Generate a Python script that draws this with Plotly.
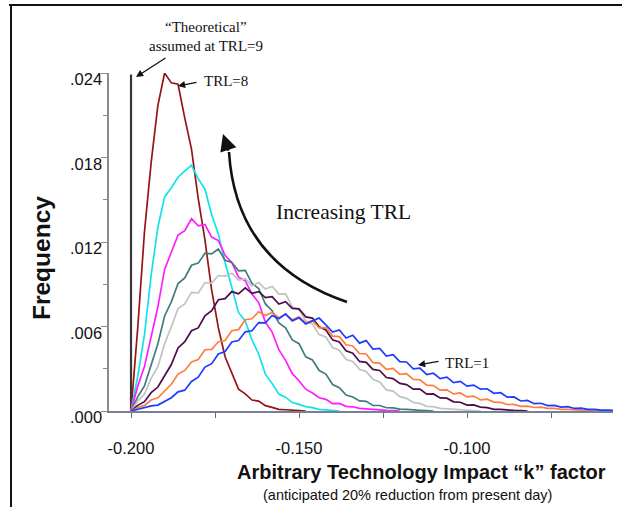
import plotly.graph_objects as go

# k-factor bin centres
k_factor = [-0.200, -0.198, -0.196, -0.194, -0.192, -0.190, -0.188, -0.186, -0.184, -0.182,
            -0.180, -0.178, -0.176, -0.174, -0.172, -0.170, -0.168, -0.166, -0.164, -0.162,
            -0.160, -0.158, -0.156, -0.154, -0.152, -0.150, -0.148, -0.146, -0.144, -0.142,
            -0.140, -0.138, -0.136, -0.134, -0.132, -0.130, -0.128, -0.126, -0.124, -0.122,
            -0.120, -0.118, -0.116, -0.114, -0.112, -0.110, -0.108, -0.106, -0.104, -0.102,
            -0.100, -0.098, -0.096, -0.094, -0.092, -0.090, -0.088, -0.086, -0.084, -0.082,
            -0.080, -0.078, -0.076, -0.074, -0.072, -0.070, -0.068, -0.066, -0.064, -0.062,
            -0.060, -0.058, -0.056]

trl8 = [0, 0.00590, 0.01270, 0.01765, 0.02170, 0.02400, 0.02330, 0.02320, 0.02080, 0.01860,
        0.01510, 0.01215, 0.00860, 0.00590, 0.00385, 0.00268, 0.00155, 0.00122, 0.00078, 0.00070,
        0.00038, 0.00026, 0.00012, 0.00009, 0.00004, 0.00003, 0]
trl7 = [0, 0.00245, 0.00540, 0.00965, 0.01305, 0.01520, 0.01585, 0.01660, 0.01705, 0.01745,
        0.01650, 0.01575, 0.01395, 0.01255, 0.01055, 0.00880, 0.00700, 0.00640, 0.00505, 0.00405,
        0.00260, 0.00195, 0.00120, 0.00098, 0.00060, 0.00047, 0.00031, 0.00024, 0.00012, 0.00008,
        0.00003, 0]
trl6 = [0, 0.00175, 0.00315, 0.00540, 0.00740, 0.01005, 0.01130, 0.01250, 0.01280, 0.01365,
        0.01315, 0.01325, 0.01235, 0.01210, 0.01105, 0.01055, 0.00950, 0.00925, 0.00830, 0.00770,
        0.00630, 0.00560, 0.00435, 0.00360, 0.00265, 0.00215, 0.00155, 0.00128, 0.00094, 0.00083,
        0.00053, 0.00054, 0.00033, 0.00030, 0.00019, 0.00015, 0.00009, 0.00008, 0.00004, 0.00003, 0]
trl5 = [0, 0.00100, 0.00178, 0.00335, 0.00478, 0.00675, 0.00775, 0.00905, 0.00945, 0.01035,
        0.01050, 0.01120, 0.01115, 0.01150, 0.01070, 0.01055, 0.00995, 0.00998, 0.00905, 0.00870,
        0.00760, 0.00712, 0.00625, 0.00590, 0.00505, 0.00478, 0.00385, 0.00362, 0.00287, 0.00262,
        0.00188, 0.00166, 0.00113, 0.00100, 0.00072, 0.00069, 0.00040, 0.00039, 0.00023, 0.00022,
        0.00013, 0.00011, 0.00006, 0.00005, 0.00003, 0]
trl4 = [0, 0.00070, 0.00120, 0.00232, 0.00315, 0.00478, 0.00598, 0.00728, 0.00760, 0.00842,
        0.00838, 0.00912, 0.00908, 0.00962, 0.00958, 0.00978, 0.00930, 0.00940, 0.00888, 0.00912,
        0.00866, 0.00884, 0.00830, 0.00832, 0.00740, 0.00718, 0.00640, 0.00618, 0.00542, 0.00525,
        0.00450, 0.00432, 0.00365, 0.00352, 0.00296, 0.00280, 0.00226, 0.00207, 0.00150, 0.00141,
        0.00102, 0.00090, 0.00060, 0.00054, 0.00033, 0.00031, 0.00019, 0.00016, 0.00009, 0.00008,
        0.00004, 0.00003, 0]
trl3 = [0, 0.00040, 0.00066, 0.00130, 0.00170, 0.00255, 0.00330, 0.00448, 0.00492, 0.00570,
        0.00590, 0.00676, 0.00712, 0.00790, 0.00798, 0.00848, 0.00832, 0.00875, 0.00835, 0.00848,
        0.00805, 0.00812, 0.00760, 0.00776, 0.00728, 0.00725, 0.00668, 0.00660, 0.00598, 0.00575,
        0.00505, 0.00490, 0.00428, 0.00410, 0.00352, 0.00345, 0.00295, 0.00288, 0.00238, 0.00230,
        0.00196, 0.00187, 0.00155, 0.00156, 0.00120, 0.00121, 0.00093, 0.00091, 0.00065, 0.00062,
        0.00042, 0.00043, 0.00028, 0.00024, 0.00012, 0.00011, 0.00006, 0.00004, 0.00002, 0]
trl2 = [0, 0.00025, 0.00040, 0.00078, 0.00094, 0.00145, 0.00190, 0.00262, 0.00288, 0.00348,
        0.00365, 0.00435, 0.00438, 0.00492, 0.00500, 0.00570, 0.00578, 0.00648, 0.00655, 0.00705,
        0.00678, 0.00700, 0.00662, 0.00685, 0.00648, 0.00670, 0.00625, 0.00642, 0.00590, 0.00592,
        0.00532, 0.00528, 0.00470, 0.00462, 0.00408, 0.00405, 0.00343, 0.00340, 0.00295, 0.00303,
        0.00260, 0.00266, 0.00225, 0.00222, 0.00184, 0.00180, 0.00148, 0.00150, 0.00121, 0.00128,
        0.00100, 0.00106, 0.00079, 0.00084, 0.00063, 0.00061, 0.00046, 0.00047, 0.00033, 0.00035,
        0.00025, 0.00027, 0.00019, 0.00019, 0.00012, 0.00011, 0.00006, 0.00006, 0.00003, 0.00003,
        0.00002, 0.00001, 0]
trl1 = [0, 0.00012, 0.00019, 0.00036, 0.00042, 0.00070, 0.00094, 0.00136, 0.00148, 0.00210,
        0.00240, 0.00312, 0.00336, 0.00405, 0.00422, 0.00490, 0.00500, 0.00562, 0.00570, 0.00628,
        0.00626, 0.00678, 0.00655, 0.00690, 0.00640, 0.00662, 0.00618, 0.00640, 0.00660, 0.00612,
        0.00560, 0.00575, 0.00518, 0.00538, 0.00482, 0.00500, 0.00440, 0.00445, 0.00390, 0.00400,
        0.00350, 0.00348, 0.00300, 0.00305, 0.00258, 0.00268, 0.00230, 0.00240, 0.00202, 0.00210,
        0.00176, 0.00184, 0.00155, 0.00158, 0.00126, 0.00130, 0.00098, 0.00100, 0.00071, 0.00075,
        0.00052, 0.00055, 0.00038, 0.00040, 0.00028, 0.00031, 0.00018, 0.00020, 0.00012, 0.00011,
        0.00006, 0.00007, 0.00004]

series = [("TRL=8", trl8, "#951515"), ("TRL=7", trl7, "#12e2ea"), ("TRL=6", trl6, "#ff1eff"),
          ("TRL=5", trl5, "#3e7d7a"), ("TRL=4", trl4, "#c2c2c2"), ("TRL=3", trl3, "#4c0c4c"),
          ("TRL=2", trl2, "#ff7d3c"), ("TRL=1", trl1, "#1e3cff")]

theoretical_k = [-0.200, -0.200]
theoretical_freq = [0, 0.0239]

y_ticks = [0.000, 0.006, 0.012, 0.018, 0.024]
y_tick_text = [".000", ".006", ".012", ".018", ".024"]
x_ticks = [-0.200, -0.150, -0.100]
x_tick_text = ["-0.200", "-0.150", "-0.100"]

SANS = "Liberation Sans, Arial, sans-serif"
SERIF = "Liberation Serif, Times New Roman, serif"

fig = go.Figure()
fig.add_trace(go.Scatter(x=theoretical_k, y=theoretical_freq, mode="lines",
                         line=dict(color="#383838", width=2.2), showlegend=False))
for name, vals, col in series:
    fig.add_trace(go.Scatter(x=k_factor[:len(vals)], y=vals, mode="lines", name=name,
                             line=dict(color=col, width=1.7), showlegend=False))


def label(x, y, text, family, size, **kw):
    d = dict(x=x, y=y, xref="paper", yref="paper", text=text, showarrow=False,
             xanchor="center", yanchor="middle",
             font=dict(family=family, size=size, color="#111"))
    d.update(kw)
    return d


def pointer(x, y, ax, ay, size=1.1, width=1.3):
    return dict(x=x, y=y, xref="paper", yref="paper", text="", showarrow=True,
                ax=ax, ay=ay, arrowhead=2, arrowsize=size, arrowwidth=width,
                arrowcolor="#111")


ann = []
for v, t in zip(y_ticks, y_tick_text):
    ann.append(dict(x=0, xref="paper", y=v, yref="y", text=t, showarrow=False,
                    xanchor="right", yanchor="middle", xshift=-5, yshift=-6,
                    font=dict(family=SANS, size=16.5, color="#111")))
ann += [
    label(-0.1329, 0.4527, "<b>Frequency</b>", SANS, 24.5, textangle=-90),
    label(0.62, -0.1805, "<b>Arbitrary Technology Impact \u201ck\u201d factor</b>", SANS, 20),
    label(0.593, -0.2485, "(anticipated 20% reduction from present day)", SANS, 14.5),
    label(0.1925, 1.136, "\u201cTheoretical\u201d", SERIF, 15),
    label(0.1925, 1.0799, "assumed at TRL=9", SERIF, 15),
    label(0.1845, 0.9763, "TRL=8", SERIF, 15, xanchor="left"),
    label(0.6627, 0.142, "TRL=1", SERIF, 15, xanchor="left"),
    label(0.3274, 0.5888, "Increasing TRL", SERIF, 21.5, xanchor="left"),
    pointer(0.0536, 0.9882, 31, -20),
    pointer(0.1369, 0.9615, 20, -4),
    pointer(0.6131, 0.1361, 22, -4),
    pointer(0.2262, 0.8195, 6, 18, size=1.4, width=2.4),
]

shapes = [
    dict(type="path", xref="paper", yref="paper",
         path="M 0.4722,0.3225 Q 0.2520,0.4349 0.2381,0.7663",
         line=dict(color="#111", width=2.6)),
    dict(type="line", xref="paper", yref="paper", x0=-0.1984, x1=1.0179, y0=1.2012, y1=1.2012,
         line=dict(color="#111", width=2)),
    dict(type="line", xref="paper", yref="paper", x0=-0.1944, x1=-0.1944, y0=1.2012, y1=-0.30,
         line=dict(color="#111", width=2)),
]

fig.update_layout(
    width=629, height=507,
    margin=dict(l=109, r=16, t=73, b=96, autoexpand=False),
    paper_bgcolor="white", plot_bgcolor="white",
    showlegend=False,
    annotations=ann, shapes=shapes,
    xaxis=dict(range=[-0.20655, -0.05655], showgrid=False, zeroline=False,
               showline=True, linecolor="#76809a", linewidth=1.5,
               ticks="outside", ticklen=5, tickcolor="#6a6a6a", tickwidth=1.2,
               tickvals=x_ticks, ticktext=x_tick_text, ticklabelstandoff=16,
               automargin=False,
               tickfont=dict(family=SANS, size=16.5, color="#111"),
               minor=dict(tickvals=[-0.175, -0.125, -0.075], ticks="outside", ticklen=5,
                          tickcolor="#6a6a6a", tickwidth=1.2)),
    yaxis=dict(range=[0, 0.024], showgrid=False, zeroline=False,
               showline=True, linecolor="#8a8a8a", linewidth=1.5,
               ticks="outside", ticklen=6, tickcolor="#8a8a8a", tickwidth=1.2,
               tickvals=y_ticks, showticklabels=False, automargin=False,
               minor=dict(tickvals=[0.003, 0.009, 0.015, 0.021], ticks="outside", ticklen=4,
                          tickcolor="#8a8a8a", tickwidth=1.2)),
)

fig.write_html("out.html", config={"displayModeBar": False},
               post_script="document.body.style.margin='0px';")
